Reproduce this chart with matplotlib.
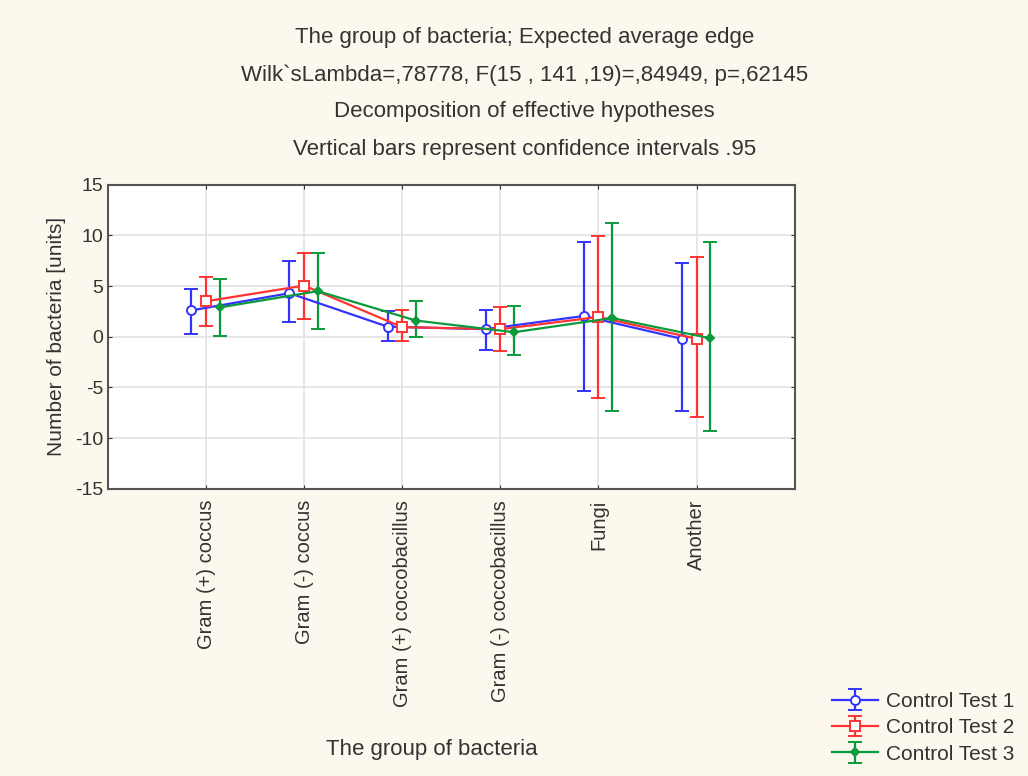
import matplotlib.pyplot as plt
import numpy as np

# Datos
grupos = ["Gram (+) coccus", "Gram (-) coccus", "Gram (+) coccobacillus",
          "Gram (-) coccobacillus", "Fungi", "Another"]

test1_media = [2.6, 4.3, 1.0, 0.75, 2.05, -0.2]
test1_sup = [4.7, 7.5, 2.5, 2.65, 9.3, 7.3]
test1_inf = [0.3, 1.5, -0.45, -1.3, -5.3, -7.3]

test2_media = [3.5, 5.05, 0.95, 0.75, 1.95, -0.2]
test2_sup = [5.85, 8.3, 2.65, 2.9, 9.9, 7.9]
test2_inf = [1.1, 1.75, -0.45, -1.45, -6.05, -7.95]

test3_media = [2.9, 4.5, 1.6, 0.45, 1.85, -0.15]
test3_sup = [5.7, 8.25, 3.5, 3.0, 11.2, 9.3]
test3_inf = [0.1, 0.75, -0.05, -1.8, -7.3, -9.3]

plt.rcParams.update({
    'font.family': 'Liberation Sans',
    'font.size': 13,
    'axes.unicode_minus': False,
    'xtick.direction': 'in',
    'ytick.direction': 'in',
    'xtick.top': True,
    'ytick.right': True,
})

fondo = '#fcf8ee'
texto = '#333333'
fig = plt.figure(figsize=(10.28, 7.76), dpi=100, facecolor=fondo)
ax = fig.add_axes([0.105, 0.370, 0.668, 0.392])
ax.set_facecolor('white')

x = np.arange(1, len(grupos) + 1)
series = [
    (test1_media, test1_sup, test1_inf, '#3333ff', 'o', 'white', -0.15, 'Control Test 1'),
    (test2_media, test2_sup, test2_inf, '#ff3333', 's', 'white', 0.0, 'Control Test 2'),
    (test3_media, test3_sup, test3_inf, '#0a9a3a', 'D', '#0a9a3a', 0.14, 'Control Test 3'),
]

for media, sup, inf, color, marca, relleno, desp, etiqueta in series:
    media = np.array(media)
    err = [media - np.array(inf), np.array(sup) - media]
    ax.errorbar(x + desp, media, yerr=err, color=color, lw=1.6, marker=marca,
                ms=6.5 if marca != 'D' else 4, mfc=relleno, mec=color, mew=1.4,
                capsize=5, capthick=1.6, elinewidth=1.6, label=etiqueta)

ax.set_xlim(0, 7)
ax.set_ylim(-15, 15)
ax.set_yticks(np.arange(-15, 16, 5))
ax.set_xticks(x)
ax.set_xticklabels(grupos, rotation=90, va='top')
ax.tick_params(axis='both', length=3, color='#333333', labelsize=14, labelcolor=texto)
ax.tick_params(axis='x', labelsize=14.5, pad=8)
ax.grid(True, color='#e2e2e2', lw=1.2)
ax.set_axisbelow(True)
for s in ax.spines.values():
    s.set_color('#555555')
    s.set_linewidth(1.5)

ax.set_ylabel("Number of bacteria [units]", fontsize=15, labelpad=6, color=texto)

titulo = ["The group of bacteria; Expected average edge",
          "Wilk`sLambda=,78778, F(15 , 141 ,19)=,84949, p=,62145",
          "Decomposition of effective hypotheses",
          "Vertical bars represent confidence intervals .95"]
for i, linea in enumerate(titulo):
    fig.text(0.51, 1 - (38 + 37 * i) / 776, linea, ha='center', va='center',
             fontsize=16, color=texto)

fig.text(0.42, 1 - 750 / 776, "The group of bacteria", ha='center', va='center',
         fontsize=16, color=texto)

ax.legend(loc='lower left', bbox_to_anchor=(0.797, 0.0), bbox_transform=fig.transFigure,
          frameon=False, fontsize=15, handlelength=2.2, labelspacing=0.35,
          borderaxespad=0.2, handletextpad=0.4, labelcolor=texto)

fig.savefig("out.png", dpi=100, facecolor=fondo)
